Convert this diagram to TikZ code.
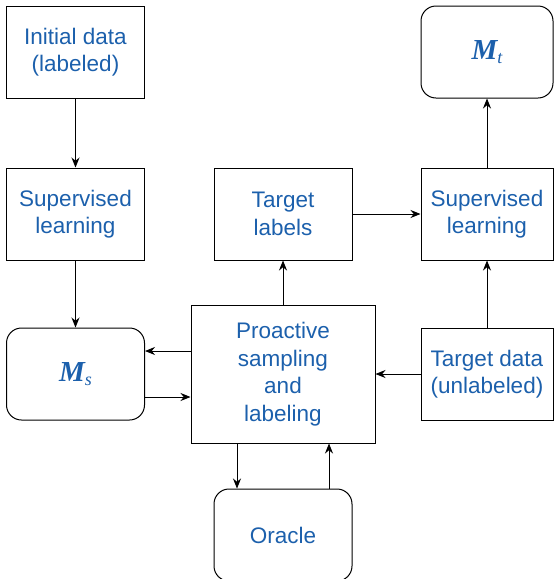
\documentclass[tikz,border=0pt]{standalone}
\usepackage{fontspec}
\setmainfont{Liberation Sans}
\newfontfamily\modelfont{Liberation Serif}
\usetikzlibrary{arrows.meta}
\definecolor{textblue}{RGB}{28,96,172}
\newcommand{\model}[1]{{\modelfont\fontsize{29}{32}\selectfont\bfseries\itshape M\raisebox{-4pt}{\fontsize{18}{20}\selectfont\mdseries #1}}}
\tikzset{
	box/.style={draw, line width=1pt, minimum width=138pt, minimum height=92pt, align=center, text=textblue, font=\fontsize{22.5}{27.5}\selectfont, inner sep=2pt},
	roundbox/.style={box, rounded corners=15pt},
	arr/.style={-{Stealth[length=10pt,width=8pt]}, line width=0.9pt}
}
\begin{document}
\begin{tikzpicture}[x=1pt, y=-1pt]
		\useasboundingbox (0,0) rectangle (554,579);
		
		% Left column
		\node[box] (init) at (75.5,52) {Initial data\\(labeled)};
		\node[box] (supl) at (75.5,214) {Supervised\\learning};
		\node[roundbox] (ms) at (75.5,374) {\model{s}};
		
		% Middle column
		\node[box] (labels) at (283,214) {Target\\labels};
		\node[box, minimum width=184pt, minimum height=138pt] (pro) at (283,374) {Proactive\\sampling\\and\\labeling};
		\node[roundbox] (oracle) at (283,535) {Oracle};
		
		% Right column
		\node[roundbox, minimum width=132pt] (mt) at (487,52) {\model{t}};
		\node[box, minimum width=132pt] (supr) at (487,214) {Supervised\\learning};
		\node[box, minimum width=132pt] (tdata) at (487,374) {Target data\\(unlabeled)};
		
		% Arrows
		\draw[arr] (init) -- (supl);
		\draw[arr] (supl) -- (ms);
		\draw[arr] (pro.west |- 0,351) -- (ms.east |- 0,351);
		\draw[arr] (ms.east |- 0,397) -- (pro.west |- 0,397);
		\draw[arr] (pro) -- (labels);
		\draw[arr] (labels) -- (supr);
		\draw[arr] (supr) -- (mt);
		\draw[arr] (tdata) -- (supr);
		\draw[arr] (tdata) -- (pro);
		\draw[arr] (pro.south -| 237,0) -- (oracle.north -| 237,0);
		\draw[arr] (oracle.north -| 329,0) -- (pro.south -| 329,0);
	\end{tikzpicture}
\end{document}
